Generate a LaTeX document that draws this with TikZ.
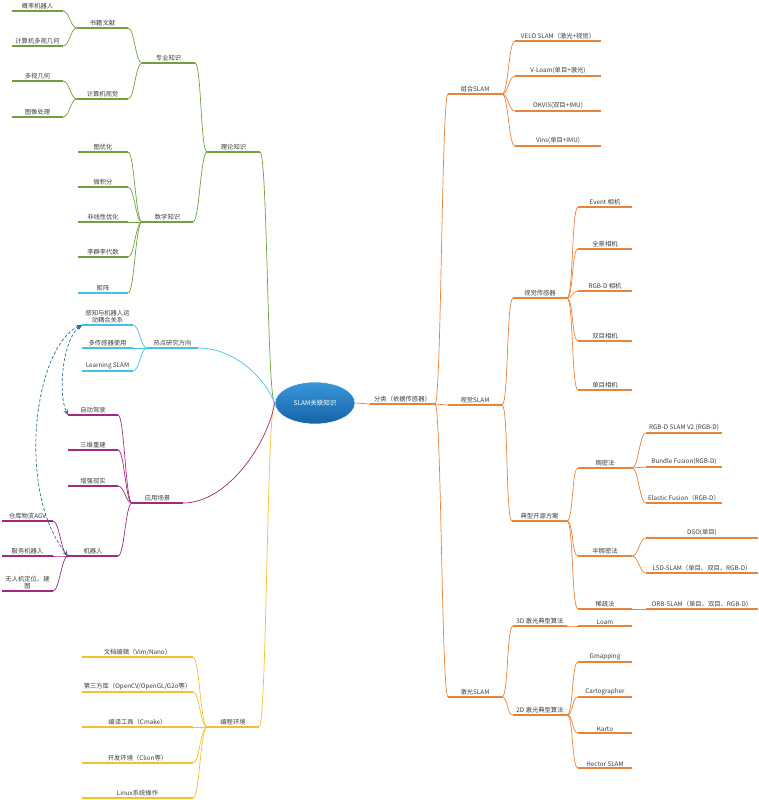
\documentclass[tikz,border=0pt]{standalone}
\usepackage{fontspec}
\setmainfont{Noto Sans CJK SC}
\usetikzlibrary{arrows.meta,shapes.geometric}
\definecolor{cgreen}{HTML}{72A03C}
\definecolor{corange}{HTML}{E8833A}
\definecolor{ccyan}{HTML}{45C0EA}
\definecolor{cpurple}{HTML}{A3287F}
\definecolor{cyellow}{HTML}{F2C12E}
\definecolor{crel}{HTML}{2B6D93}
\definecolor{txt}{HTML}{3C3C3C}
\definecolor{rootA}{HTML}{3A97DA}
\definecolor{rootB}{HTML}{1463A6}
\tikzset{
  tnode/.style={inner xsep=0pt, inner ysep=1.6pt, font=\fontsize{6.3}{7.4}\selectfont, text=txt, align=center},
  uline/.style={line width=1.8pt},
  conn/.style={line width=0.7pt},
  rel/.style={crel, line width=0.7pt, dash pattern=on 3pt off 2pt,
    arrows={Stealth[length=5.5pt,width=4.5pt]-Stealth[length=5.5pt,width=4.5pt]}},
}
\newcommand\mytp[6]{%
  \coordinate (#1-l) at (#2,#4);
  \coordinate (#1-r) at (#3,#4);
  \node[tnode,anchor=south,minimum width={(#3-#2)*1pt}] (#1) at ({(#2+#3)/2},#4) {#6};
  \draw[#5,uline] (#1-l) -- (#1-r);}
\newcommand\mylc[3]{\draw[#1,conn] (#2-l) .. controls +(-6.5,0) and +(6.5,0) .. (#3-r);}
\newcommand\myrc[3]{\draw[#1,conn] (#2-r) .. controls +(6.5,0) and +(-6.5,0) .. (#3-l);}
\begin{document}
\begin{tikzpicture}[x=1pt,y=-1pt]
\useasboundingbox (0,0) rectangle (758,800);
% root
\node[ellipse, minimum width=80pt, minimum height=42pt, inner sep=0pt, top color=rootA, bottom color=rootB, draw=white, line width=0.5pt, text=white, font=\fontsize{6.5}{8}\selectfont] (root) at (315,403) {SLAM关联知识};
% ---------- left: theory
\mytp{lilun}{207}{260}{152}{cgreen}{理论知识}
\mytp{zhuanye}{142}{195}{63}{cgreen}{专业知识}
\mytp{shuji}{77}{128}{28}{cgreen}{书籍文献}
\mytp{jsjsj}{77}{128}{99}{cgreen}{计算机视觉}
\mytp{gljqr}{12}{63}{11}{cgreen}{概率机器人}
\mytp{dsjh1}{12}{63}{46}{cgreen}{计算机多视几何}
\mytp{dsjh2}{12}{63}{81}{cgreen}{多视几何}
\mytp{txcl}{12}{63}{117}{cgreen}{图像处理}
\mytp{shuxue}{142}{193}{222}{cgreen}{数学知识}
\mytp{tyh}{78}{128}{152}{cgreen}{图优化}
\mytp{wjf}{78}{128}{187}{cgreen}{微积分}
\mytp{fxx}{78}{128}{222}{cgreen}{非线性优化}
\mytp{lq}{78}{128}{257}{cgreen}{李群李代数}
\mytp{jz}{78}{128}{293}{ccyan}{矩阵}
% ---------- left: hot topics
\mytp{redian}{147}{198}{348}{ccyan}{热点研究方向}
\mytp{ganzhi}{82}{133}{325}{ccyan}{感知与机器人运\\动耦合关系}
\mytp{dcgq}{82}{133}{348}{ccyan}{多传感器使用}
\mytp{lslam}{82}{133}{371}{ccyan}{Learning SLAM}
% ---------- left: applications
\mytp{yingyong}{132}{183}{503}{cpurple}{应用场景}
\mytp{zdjs}{68}{118}{415}{cpurple}{自动驾驶}
\mytp{swcj}{68}{118}{450}{cpurple}{三维重建}
\mytp{zqxs}{68}{118}{486}{cpurple}{增强现实}
\mytp{jqr}{68}{118}{556}{cpurple}{机器人}
\mytp{agv}{2}{53}{521}{cpurple}{仓库物流AGV}
\mytp{fwjqr}{2}{53}{556}{cpurple}{服务机器人}
\mytp{wrj}{2}{53}{591}{cpurple}{无人机定位、建\\图}
% ---------- left: programming
\mytp{biancheng}{207}{259}{727}{cyellow}{编程环境}
\mytp{wdbj}{82}{193}{657}{cyellow}{文档编辑（Vim/Nano）}
\mytp{dsfk}{82}{193}{692}{cyellow}{第三方库（OpenCV/OpenGL/G2o等）}
\mytp{byg}{82}{193}{727}{cyellow}{编译工具（Cmake）}
\mytp{kfhj}{82}{193}{763}{cyellow}{开发环境（Clion等）}
\mytp{linux}{82}{193}{798}{cyellow}{Linux系统操作}
% ---------- right
\mytp{fenlei}{370}{435}{404}{corange}{分类（依据传感器）}
\mytp{zuhe}{448}{502}{94}{corange}{组合SLAM}
\mytp{velo}{515}{601}{41}{corange}{VELO SLAM（激光+视觉）}
\mytp{vloam}{515}{601}{76}{corange}{V-Loam(单目+激光)}
\mytp{okvis}{515}{601}{111}{corange}{OKVIS(双目+IMU)}
\mytp{vins}{515}{601}{146}{corange}{Vins(单目+IMU)}
\mytp{shijue}{448}{502}{405}{corange}{视觉SLAM}
\mytp{sjcgq}{513}{567}{298}{corange}{视觉传感器}
\mytp{event}{578}{632}{207}{corange}{Event 相机}
\mytp{qj}{578}{632}{249}{corange}{全景相机}
\mytp{rgbd}{578}{632}{291}{corange}{RGB-D 相机}
\mytp{sm}{578}{632}{341}{corange}{双目相机}
\mytp{dm}{578}{632}{390}{corange}{单目相机}
\mytp{dxky}{512}{567}{521}{corange}{典型开源方案}
\mytp{cmf}{578}{632}{468}{corange}{稠密法}
\mytp{bcmf}{578}{632}{556}{corange}{半稠密法}
\mytp{xsf}{578}{632}{609}{corange}{稀疏法}
\mytp{rgbdslam}{646}{722}{433}{corange}{RGB-D SLAM V2 (RGB-D)}
\mytp{bundle}{646}{722}{467}{corange}{Bundle Fusion(RGB-D)}
\mytp{elastic}{646}{722}{503}{corange}{Elastic Fusion（RGB-D）}
\mytp{dso}{646}{758}{538}{corange}{DSO(单目)}
\mytp{lsd}{646}{758}{573}{corange}{LSD-SLAM（单目、双目、RGB-D）}
\mytp{orb}{646}{758}{609}{corange}{ORB-SLAM（单目、双目、RGB-D）}
\mytp{jiguang}{448}{502}{697}{corange}{激光SLAM}
\mytp{jgsd}{513}{567}{626}{corange}{3D 激光典型算法}
\mytp{loam}{578}{632}{626}{corange}{Loam}
\mytp{jged}{513}{567}{715}{corange}{2D 激光典型算法}
\mytp{gmapping}{578}{632}{662}{corange}{Gmapping}
\mytp{carto}{578}{632}{697}{corange}{Cartographer}
\mytp{karto}{578}{632}{733}{corange}{Karto}
\mytp{hector}{578}{632}{768}{corange}{Hector SLAM}
% ---------- connectors from root
\draw[cgreen,conn] (root.west) .. controls +(-7.5,0) and +(7.5,0) .. (lilun-r);
\draw[cyellow,conn] (root.west) .. controls +(-8,0) and +(8,0) .. (biancheng-r);
\draw[ccyan,conn] (root.west) .. controls +(-10,-25) and +(37,0) .. (redian-r);
\draw[cpurple,conn] (root.west) .. controls +(-7,40) and +(45,0) .. (yingyong-r);
\draw[corange,conn] (root.east) -- (fenlei-l);
% ---------- left connectors
\mylc{cgreen}{lilun}{zhuanye}
\mylc{cgreen}{lilun}{shuxue}
\mylc{cgreen}{zhuanye}{shuji}
\mylc{cgreen}{zhuanye}{jsjsj}
\mylc{cgreen}{shuji}{gljqr}
\mylc{cgreen}{shuji}{dsjh1}
\mylc{cgreen}{jsjsj}{dsjh2}
\mylc{cgreen}{jsjsj}{txcl}
\mylc{cgreen}{shuxue}{tyh}
\mylc{cgreen}{shuxue}{wjf}
\mylc{cgreen}{shuxue}{fxx}
\mylc{cgreen}{shuxue}{lq}
\mylc{cgreen}{shuxue}{jz}
\mylc{ccyan}{redian}{ganzhi}
\mylc{ccyan}{redian}{dcgq}
\mylc{ccyan}{redian}{lslam}
\mylc{cpurple}{yingyong}{zdjs}
\mylc{cpurple}{yingyong}{swcj}
\mylc{cpurple}{yingyong}{zqxs}
\mylc{cpurple}{yingyong}{jqr}
\mylc{cpurple}{jqr}{agv}
\mylc{cpurple}{jqr}{fwjqr}
\mylc{cpurple}{jqr}{wrj}
\mylc{cyellow}{biancheng}{wdbj}
\mylc{cyellow}{biancheng}{dsfk}
\mylc{cyellow}{biancheng}{byg}
\mylc{cyellow}{biancheng}{kfhj}
\mylc{cyellow}{biancheng}{linux}
% ---------- right connectors
\myrc{corange}{fenlei}{zuhe}
\myrc{corange}{fenlei}{shijue}
\myrc{corange}{fenlei}{jiguang}
\myrc{corange}{zuhe}{velo}
\myrc{corange}{zuhe}{vloam}
\myrc{corange}{zuhe}{okvis}
\myrc{corange}{zuhe}{vins}
\myrc{corange}{shijue}{sjcgq}
\myrc{corange}{shijue}{dxky}
\myrc{corange}{sjcgq}{event}
\myrc{corange}{sjcgq}{qj}
\myrc{corange}{sjcgq}{rgbd}
\myrc{corange}{sjcgq}{sm}
\myrc{corange}{sjcgq}{dm}
\myrc{corange}{dxky}{cmf}
\myrc{corange}{dxky}{bcmf}
\myrc{corange}{dxky}{xsf}
\myrc{corange}{cmf}{rgbdslam}
\myrc{corange}{cmf}{bundle}
\myrc{corange}{cmf}{elastic}
\myrc{corange}{bcmf}{dso}
\myrc{corange}{bcmf}{lsd}
\myrc{corange}{xsf}{orb}
\myrc{corange}{jiguang}{jgsd}
\myrc{corange}{jiguang}{jged}
\myrc{corange}{jgsd}{loam}
\myrc{corange}{jged}{gmapping}
\myrc{corange}{jged}{carto}
\myrc{corange}{jged}{karto}
\myrc{corange}{jged}{hector}
% ---------- relations
\draw[rel] (ganzhi-l) .. controls (35,345) and (15,490) .. (jqr-l);
\draw[rel] (ganzhi-l) .. controls (62,340) and (58,395) .. (zdjs-l);
\end{tikzpicture}
\end{document}
